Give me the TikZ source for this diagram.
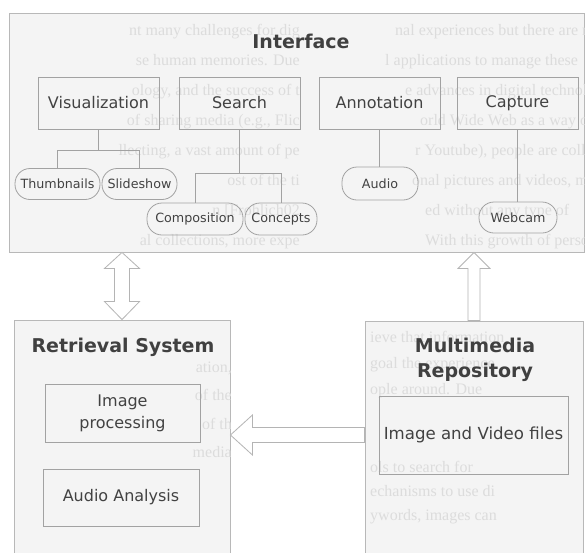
\documentclass[tikz,border=0pt]{standalone}
\usepackage{fontspec}
\setmainfont{DejaVu Sans}
\newfontfamily\bleedfont{Liberation Serif}
\usetikzlibrary{calc}

\definecolor{boxline}{HTML}{B8B8B8}
\definecolor{subline}{HTML}{A2A2A2}
\definecolor{labeltext}{HTML}{424242}
\definecolor{paneltint}{HTML}{F4F4F4}
\definecolor{bleed}{HTML}{DCDCDC}
\definecolor{arrowline}{HTML}{B4B4B4}

\begin{document}
\begin{tikzpicture}[x=1pt,y=-1pt,
  panel/.style={draw=boxline, fill=paneltint, line width=0.9pt, inner sep=0pt},
  module/.style={draw=subline, line width=0.8pt, minimum width=121pt, minimum height=52pt,
    text=labeltext, font=\fontsize{16}{22}\selectfont, align=center, inner sep=0pt},
  feature/.style={draw=subline, line width=0.8pt, rounded corners=15pt, minimum height=31pt,
    text=labeltext, font=\fontsize{12.7}{15}\selectfont, inner sep=0pt},
  heading/.style={text=black!75, font=\fontsize{19}{25}\selectfont\bfseries, align=center},
  link/.style={draw=subline, line width=0.6pt},
  hollow/.style={draw=arrowline, fill=white, line width=0.8pt, line join=miter},
  bleedtext/.style={text=bleed, font=\bleedfont\fontsize{16}{30}\selectfont, inner sep=0pt}
]
\clip (0,0) rectangle (585,552);
\fill[white] (0,0) rectangle (585,552);

% the three panels
\node[panel, minimum width=575pt, minimum height=239pt] (iface) at (296.5,132.5) {};
\node[panel, minimum width=216pt, minimum height=250pt] (retr) at (122,445) {};
\node[panel, minimum width=218pt, minimum height=250pt] (repo) at (474,446) {};

% printed page showing through the panels
\begin{scope}
\clip (iface.south west) rectangle (iface.north east);
\foreach \x/\y/\txt [count=\i] in {395/33/{nal experiences but there are many},
    385/63/{l applications to manage these},
    405/93/{e advances in digital technology},
    420/123/{orld Wide Web as a way of},
    415/153/{r Youtube), people are collecting},
    412/183/{onal pictures and videos, most},
    425/213/{ed without any type of},
    425/243/{With this growth of personal}}
  \node[bleedtext, anchor=mid west] (bleedr\i) at (\x,\y) {\txt};
\foreach \y/\txt [count=\i] in {33/{nt many challenges for dig},
    63/{se human memories. Due},
    93/{ology, and the success of t},
    123/{of sharing media (e.g., Flic},
    153/{llecting, a vast amount of pe},
    183/{ost of the ti},
    213/{n [Frohlich02},
    243/{al collections, more expe}}
  \node[bleedtext, anchor=mid east] (bleedl\i) at (300,\y) {\txt};
\end{scope}
\begin{scope}
\clip (retr.south west) rectangle (retr.north east);
\foreach \y/\txt [count=\i] in {370/{ation,}, 398/{of the}, 427/{of th}, 455/{media}}
  \node[bleedtext, anchor=mid east] (bleedret\i) at (232,\y) {\txt};
\end{scope}
\begin{scope}
\clip (repo.south west) rectangle (repo.north east);
\foreach \y/\txt [count=\i] in {340/{ieve that information},
    366/{goal the experience},
    392/{ople around. Due},
    470/{ols to search for},
    494/{echanisms to use di},
    518/{ywords, images can}}
  \node[bleedtext, anchor=mid west] (bleedrep\i) at (370,\y) {\txt};
\end{scope}

% interface
\node[heading] (ifacetitle) at (301,41) {Interface};
\node[module] (vis) at (98.5,103) {Visualization};
\node[module] (search) at (239.5,103) {Search};
\node[module] (annot) at (379.5,103) {Annotation};
\node[module] (capture) at (517.5,103) {Capture};

\node[feature, minimum width=85pt] (thumbs) at (57.5,184) {Thumbnails};
\node[feature, minimum width=75pt] (slides) at (139.5,184) {Slideshow};
\node[feature, minimum width=96pt, minimum height=32pt] (compo) at (195,219) {Composition};
\node[feature, minimum width=72pt, minimum height=32pt] (concepts) at (281,219) {Concepts};
\node[feature, minimum width=76pt, minimum height=33pt] (audio) at (380,183.5) {Audio};
\node[feature, minimum width=78pt] (webcam) at (518,217.5) {Webcam};

\draw[link] (vis.south) -- ++(0,21) -| (thumbs.north);
\draw[link] (vis.south) -- ++(0,21) -| (slides.north);
\draw[link] (search.south) -- ++(0,44) -| (compo.north);
\draw[link] (search.south) -- ++(0,44) -| (concepts.north);
\draw[link] (annot.south) -- (annot.south |- audio.north);
\draw[link] (capture.south) -- (capture.south |- webcam.north);

% retrieval system
\node[heading] (retrtitle) at (123,347) {Retrieval System};
\node[module, minimum width=155pt, minimum height=58pt] (imgproc) at (122.5,413) {Image\\processing};
\node[module, minimum width=156pt, minimum height=57pt] (audioan) at (121,497.5) {Audio Analysis};

% multimedia repository
\node[heading] (repotitle) at (475,360) {Multimedia\\Repository};
\node[module, minimum width=189pt, minimum height=78pt, font=\fontsize{16.6}{22}\selectfont] (files) at (473.5,435) {Image and Video files};

% block arrows
\draw[hollow] (iface.south -| retr.north) -- ++(17.5,16) -- ++(-10,0)
  -- ($(retr.north)+(7.5,-18)$) -- ++(10,0) -- (retr.north) -- ++(-17.5,-18) -- ++(10,0)
  -- ($(iface.south -| retr.north)+(-7.5,16)$) -- ++(-10,0) -- cycle;
\draw[hollow] (iface.south -| repo.north) -- ++(16,16) -- ++(-10,0)
  -- ($(repo.north)+(6,0)$) -- ++(-12,0)
  -- ($(iface.south -| repo.north)+(-6,16)$) -- ++(-10,0) -- cycle;
\draw[hollow] (retr.east |- files) -- ++(22,-20) -- ++(0,12.5)
  -- ($(repo.west |- files)+(0,-7.5)$) -- ++(0,15)
  -- ($(retr.east |- files)+(22,7.5)$) -- ++(0,12.5) -- cycle;
\end{tikzpicture}
\end{document}
